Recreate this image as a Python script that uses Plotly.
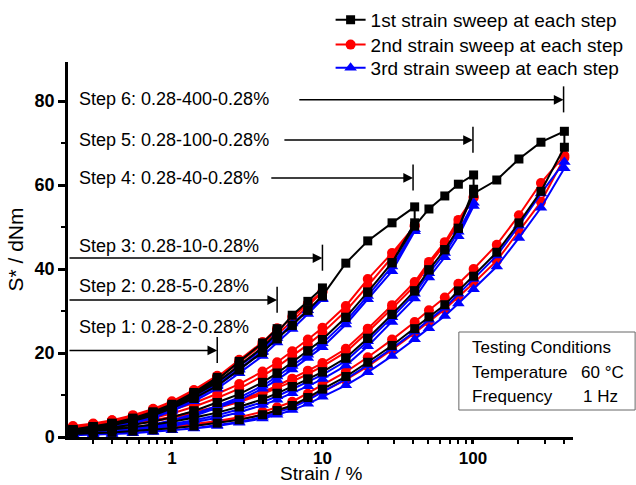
import math
import plotly.graph_objects as go

# ---------------- data ----------------
strain_grid = [0.22, 0.3, 0.4, 0.55, 0.75, 1.0, 1.4, 2.0, 2.8, 4.0, 5.0, 6.3, 8.0, 10,
               14.3, 20, 29, 41, 51, 65, 80, 101, 144, 202, 283, 405]
step_max_strain = [2, 5, 10, 40, 100, 400]
step_last_index = [7, 10, 13, 17, 21, 25]
step_labels = ["Step 1: 0.28-2-0.28%", "Step 2: 0.28-5-0.28%", "Step 3: 0.28-10-0.28%",
               "Step 4: 0.28-40-0.28%", "Step 5: 0.28-100-0.28%", "Step 6: 0.28-400-0.28%"]

# 1st strain sweep at each step (up: increasing strain, down: decreasing strain)
sweep1_up = [
    [1.8, 2.5, 3.3, 4.5, 6.0, 7.8, 10.6, 14.2],
    [1.7, 2.4, 3.2, 4.3, 5.8, 7.5, 10.2, 13.6, 18.0, 22.4, 25.8],
    [1.6, 2.3, 3.0, 4.1, 5.5, 7.2, 9.8, 13.0, 17.0, 21.3, 24.8, 29.0, 32.3, 35.5],
    [1.5, 2.1, 2.8, 3.8, 5.1, 6.8, 9.2, 12.2, 16.0, 20.2, 23.4, 26.6, 30.2, 33.6, 41.4, 46.7, 51.0, 54.8],
    [1.3, 1.7, 2.2, 2.9, 3.7, 4.7, 6.2, 8.2, 10.2, 13.0, 15.2, 17.8, 20.5, 23.2, 28.5, 34.5, 41.5, 50.2,
     54.3, 57.4, 60.2, 62.4],
    [1.1, 1.4, 1.8, 2.3, 2.9, 3.6, 4.6, 5.8, 7.2, 9.0, 10.4, 12.0, 13.8, 15.5, 18.8, 23.5, 29.2, 34.8,
     39.8, 44.6, 49.7, 58.0, 61.2, 66.2, 70.2, 72.8],
]
sweep1_down = [
    [13.6, 10.2, 7.5, 5.8, 4.3, 3.2, 2.4, 1.7],
    [24.8, 21.3, 17.0, 13.0, 9.8, 7.2, 5.5, 4.1, 3.0, 2.3, 1.6],
    [33.6, 30.2, 26.6, 23.4, 20.2, 16.0, 12.2, 9.2, 6.8, 5.1, 3.8, 2.8, 2.1, 1.5],
    [51.0, 41.5, 34.5, 28.5, 23.2, 20.5, 17.8, 15.2, 13.0, 10.2, 8.2, 6.2, 4.7, 3.7, 2.9, 2.2, 1.7, 1.3],
    [59.0, 49.7, 44.6, 39.8, 34.8, 29.2, 23.5, 18.8, 15.5, 13.8, 12.0, 10.4, 9.0, 7.2, 5.8, 4.6, 3.6, 2.9,
     2.3, 1.8, 1.4, 1.1],
    [69.0, 58.5, 51.0, 44.0, 38.3, 34.8, 31.5, 28.6, 25.8, 21.8, 17.8, 14.4, 11.4, 9.4, 7.5, 6.3, 5.3, 4.1,
     3.3, 2.6, 2.1, 1.7, 1.4, 1.1, 0.9, 0.7],
]
# 2nd strain sweep at each step
sweep2_up = [
    [2.6, 3.2, 4.0, 5.2, 6.7, 8.5, 11.2, 14.6],
    [2.4, 3.1, 3.9, 5.0, 6.5, 8.2, 10.9, 14.3, 18.4, 22.6, 25.9],
    [2.3, 3.0, 3.8, 4.9, 6.3, 8.0, 10.6, 13.8, 17.8, 22.0, 25.3, 28.6, 31.8, 34.6],
    [1.9, 2.3, 2.9, 3.6, 4.5, 5.6, 7.2, 9.3, 11.5, 14.5, 16.7, 19.3, 22.0, 24.8, 30.0, 36.0, 42.8, 50.5],
    [1.5, 1.9, 2.4, 3.0, 3.7, 4.5, 5.6, 6.9, 8.3, 10.2, 11.6, 13.2, 15.0, 16.8, 20.2, 25.0, 30.6, 36.0,
     41.0, 45.8, 50.8, 57.0],
    [0.9, 1.0, 1.2, 1.5, 1.8, 2.2, 2.7, 3.4, 4.2, 5.3, 6.2, 7.4, 9.0, 10.8, 13.6, 16.8, 20.8, 24.8,
     27.4, 30.4, 33.4, 36.6, 42.0, 49.0, 56.0, 66.5],
]
sweep2_down = [
    [14.4, 11.0, 8.3, 6.5, 5.0, 3.9, 3.0, 2.4],
    [25.6, 22.1, 17.8, 13.8, 10.5, 7.9, 6.2, 4.8, 3.7, 2.9, 2.3],
    [34.5, 31.2, 27.6, 24.4, 21.2, 16.9, 13.0, 9.9, 7.5, 5.8, 4.5, 3.5, 2.8, 2.2],
    [50.2, 43.8, 37.6, 31.2, 26.0, 23.2, 20.4, 17.8, 15.6, 12.6, 10.3, 8.1, 6.4, 5.2, 4.2, 3.4, 2.8, 2.3],
    [57.2, 51.7, 46.4, 41.7, 36.9, 31.4, 25.8, 21.0, 17.6, 15.8, 13.9, 12.2, 10.7, 8.8, 7.2, 5.9, 4.8, 4.0,
     3.3, 2.7, 2.2, 1.8],
    [67.0, 60.5, 52.8, 45.8, 40.0, 36.5, 33.2, 30.2, 27.4, 23.2, 19.0, 15.5, 12.4, 10.3, 8.4, 7.1, 6.0, 4.7,
     3.8, 3.1, 2.5, 2.1, 1.7, 1.4, 1.2, 1.0],
]
# 3rd strain sweep at each step
sweep3_up = [
    [1.0, 1.8, 2.7, 3.8, 5.3, 7.0, 9.8, 13.2],
    [0.9, 1.7, 2.6, 3.7, 5.1, 6.8, 9.4, 12.7, 16.9, 21.0, 24.6],
    [0.8, 1.6, 2.4, 3.5, 4.9, 6.5, 9.0, 12.1, 16.0, 20.2, 23.6, 27.0, 30.2, 33.0],
    [0.7, 1.0, 1.4, 2.0, 2.7, 3.6, 5.0, 6.9, 8.8, 11.5, 13.6, 16.1, 18.8, 21.4, 26.8, 32.8, 39.5, 49.0],
    [0.6, 0.8, 1.1, 1.5, 2.0, 2.6, 3.5, 4.6, 5.9, 7.6, 8.9, 10.4, 12.1, 13.8, 17.0, 21.6, 27.4, 33.0,
     38.0, 42.8, 47.8, 55.0],
    [0.5, 0.6, 0.8, 1.0, 1.3, 1.6, 2.0, 2.6, 3.4, 4.4, 5.3, 6.4, 7.9, 9.6, 12.3, 15.4, 19.3, 23.3,
     25.9, 28.8, 31.8, 35.2, 40.6, 47.4, 54.6, 64.0],
]
sweep3_down = [
    [13.0, 9.6, 6.8, 5.1, 3.6, 2.5, 1.7, 0.9],
    [24.0, 20.4, 16.2, 12.3, 9.1, 6.5, 4.8, 3.5, 2.4, 1.6, 0.9],
    [32.8, 29.3, 25.7, 22.5, 19.3, 15.2, 11.5, 8.5, 6.2, 4.5, 3.2, 2.2, 1.5, 0.8],
    [49.5, 40.6, 33.6, 27.6, 22.3, 19.6, 16.9, 14.4, 12.2, 9.4, 7.4, 5.5, 4.0, 3.0, 2.3, 1.6, 1.2, 0.8],
    [55.8, 48.9, 43.8, 39.0, 34.1, 28.5, 22.8, 18.1, 14.8, 13.1, 11.3, 9.7, 8.3, 6.6, 5.2, 4.0, 3.1, 2.4,
     1.8, 1.3, 1.0, 0.7],
    [65.5, 58.0, 50.3, 43.2, 37.6, 34.1, 30.8, 27.9, 25.1, 21.1, 17.1, 13.8, 10.8, 8.8, 7.0, 5.8, 4.8, 3.6,
     2.8, 2.1, 1.6, 1.2, 0.9, 0.7, 0.5, 0.4],
]

# arrow heights (S*, dNm) for each step annotation
arrow_level = [20.6, 32.6, 42.6, 61.7, 70.7, 80.3]
arrow_start = [0.204, 0.204, 0.204, 4.47, 5.46, 6.86]
label_level = [26.2, 36.0, 45.5, 61.7, 70.7, 80.5]

FONT = "Arial, Liberation Sans, sans-serif"


def build(up, down):
    xs, ys = [], []
    for k, last in enumerate(step_last_index):
        g = strain_grid[:last + 1]
        assert len(up[k]) == len(g) and len(down[k]) == len(g), (k, len(up[k]), len(down[k]), len(g))
        xs += g + g[::-1]
        ys += up[k] + down[k]
    return xs, ys


fig = go.Figure()
series = [
    ("2nd strain sweep at each step", sweep2_up, sweep2_down, "#ff0000", "circle", 10, "legend2"),
    ("3rd strain sweep at each step", sweep3_up, sweep3_down, "#0000ff", "triangle-up", 11, "legend3"),
    ("1st strain sweep at each step", sweep1_up, sweep1_down, "#000000", "square", 9, "legend"),
]
for name, up, down, col, sym, size, leg in series:
    xs, ys = build(up, down)
    fig.add_trace(go.Scatter(
        x=xs, y=ys, mode="lines+markers", name=name, legend=leg,
        line=dict(color=col, width=2),
        marker=dict(symbol=sym, size=size, color=col, line=dict(width=0)),
        cliponaxis=False,
    ))

annotations = []
shapes = []
for k in range(6):
    m = step_max_strain[k]
    yv = arrow_level[k]
    annotations.append(dict(
        x=math.log10(m), y=yv, ax=math.log10(arrow_start[k]), ay=yv,
        xref="x", yref="y", axref="x", ayref="y", text="", showarrow=True,
        arrowhead=2, arrowsize=1.3, arrowwidth=1.5, arrowcolor="black", standoff=0,
    ))
    shapes.append(dict(type="line", xref="x", yref="y", x0=m, x1=m, y0=yv - 3.0, y1=yv + 3.2,
                       line=dict(color="black", width=1.5)))
    annotations.append(dict(
        x=0.018, y=label_level[k], xref="paper", yref="y", xanchor="left", yanchor="middle",
        text=step_labels[k], showarrow=False, font=dict(family=FONT, size=18, color="black"),
        bgcolor="rgba(0,0,0,0)",
    ))

# testing conditions box
shapes.append(dict(type="rect", xref="paper", yref="paper", x0=0.774, x1=1.123, y0=0.072, y1=0.28,
                   line=dict(color="#666666", width=1), fillcolor="white", layer="above"))
box_font = dict(family=FONT, size=17, color="black")
annotations += [
    dict(x=0.796, y=0.24, xref="paper", yref="paper", xanchor="left", yanchor="middle",
         text="Testing Conditions", showarrow=False, font=box_font),
    dict(x=0.796, y=0.171, xref="paper", yref="paper", xanchor="left", yanchor="middle",
         text="Temperature", showarrow=False, font=box_font),
    dict(x=1.105, y=0.171, xref="paper", yref="paper", xanchor="right", yanchor="middle",
         text="60 °C", showarrow=False, font=box_font),
    dict(x=0.796, y=0.109, xref="paper", yref="paper", xanchor="left", yanchor="middle",
         text="Frequency", showarrow=False, font=box_font),
    dict(x=1.093, y=0.109, xref="paper", yref="paper", xanchor="right", yanchor="middle",
         text="1 Hz", showarrow=False, font=box_font),
    # x-axis title
    dict(x=0.5, y=-0.097, xref="paper", yref="paper", xanchor="center", yanchor="middle",
         text="Strain / %", showarrow=False, font=dict(family=FONT, size=19, color="black")),
]

leg_common = dict(x=0.52, xanchor="left", yanchor="middle", font=dict(family=FONT, size=19),
                  bgcolor="rgba(0,0,0,0)")
fig.update_layout(
    width=636, height=485,
    margin=dict(l=68, r=63, t=62, b=48, autoexpand=False),
    paper_bgcolor="white", plot_bgcolor="white",
    font=dict(family=FONT, color="black"),
    showlegend=True,
    legend=dict(y=1.112, **leg_common),
    legend2=dict(y=1.046, **leg_common),
    legend3=dict(y=0.984, **leg_common),
    annotations=annotations, shapes=shapes,
    xaxis=dict(
        type="log", range=[math.log10(0.204), math.log10(462)],
        tickvals=[1, 10, 100], ticktext=["1", "10", "100"],
        ticks="outside", ticklen=4, tickwidth=2.5, tickcolor="black",
        showline=True, linewidth=2.5, linecolor="black", showgrid=False, zeroline=False,
        minor=dict(ticks="outside", ticklen=4, tickwidth=2, tickcolor="black", dtick="D1", showgrid=False),
        tickfont=dict(family=FONT, size=17, weight="bold"),
        automargin=False,
    ),
    yaxis=dict(
        range=[0, 89.3], tickvals=[0, 20, 40, 60, 80],
        ticks="outside", ticklen=7, tickwidth=2.5, tickcolor="black",
        showline=True, linewidth=2.5, linecolor="black", showgrid=False, zeroline=False,
        minor=dict(ticks="outside", ticklen=4, tickwidth=2, tickcolor="black", dtick=10, showgrid=False),
        tickfont=dict(family=FONT, size=18, weight="bold"),
        title=dict(text="S* / dNm", font=dict(family=FONT, size=21), standoff=6),
        automargin=False,
    ),
)

fig.write_html("out.html", config={"displayModeBar": False},
               post_script="document.body.style.margin='0px';document.body.style.padding='0px';")
